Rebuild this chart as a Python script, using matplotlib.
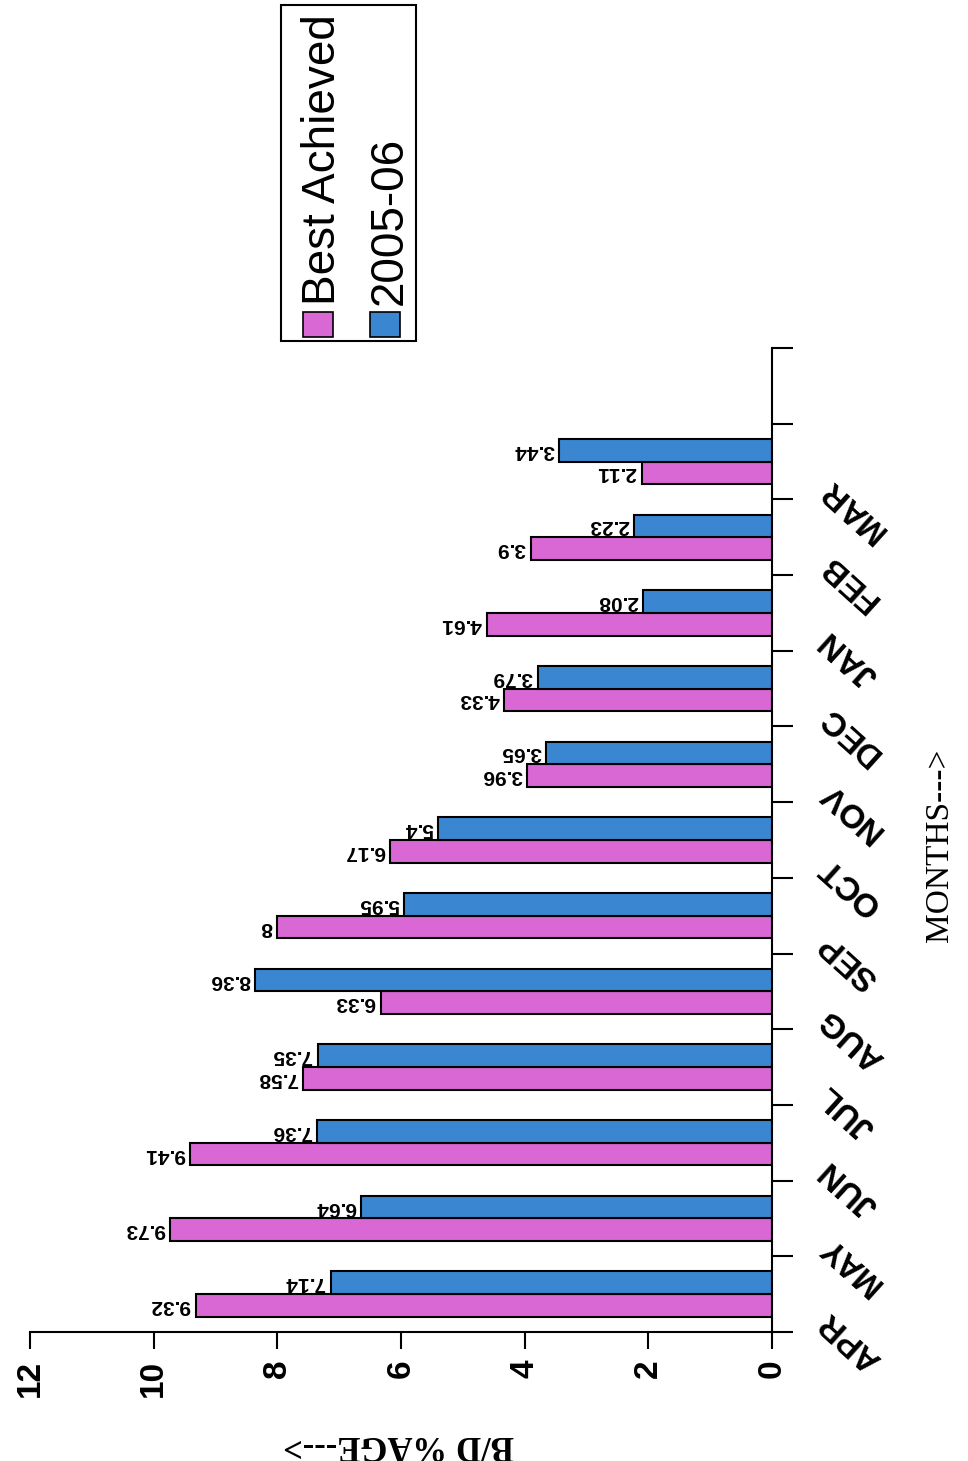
import numpy as np
import matplotlib.pyplot as plt
from matplotlib.patches import Rectangle

# data
months = ['APR', 'MAY', 'JUN', 'JUL', 'AUG', 'SEP', 'OCT', 'NOV', 'DEC', 'JAN', 'FEB', 'MAR']
best_achieved = [9.32, 9.73, 9.41, 7.58, 6.33, 8, 6.17, 3.96, 4.33, 4.61, 3.9, 2.11]
fy_2005_06 = [7.14, 6.64, 7.36, 7.35, 8.36, 5.95, 5.4, 3.65, 3.79, 2.08, 2.23, 3.44]
series_names = ['Best Achieved', '2005-06']
value_ticks = [0, 2, 4, 6, 8, 10, 12]

pink = '#DA68D4'
blue = '#3B86D1'
sans = 'Liberation Sans'
serif = 'Liberation Serif'

W, H = 968, 1461
fig = plt.figure(figsize=(W / 100, H / 100), dpi=100)
fig.patch.set_facecolor('white')

# axes placed in pixel terms
ax_l, ax_r, ax_t, ax_b = 30, 772, 348, 1332
ax = fig.add_axes([ax_l / W, (H - ax_b) / H, (ax_r - ax_l) / W, (ax_b - ax_t) / H])

y = np.arange(len(months))
bw = 0.3
ax.barh(y - bw / 2, best_achieved, height=bw, color=pink, edgecolor='black', linewidth=1.5)
ax.barh(y + bw / 2, fy_2005_06, height=bw, color=blue, edgecolor='black', linewidth=1.5)

# value labels, upside down like the scan
for vals, off in [(best_achieved, -bw / 2), (fy_2005_06, bw / 2)]:
    for i, v in enumerate(vals):
        ax.annotate(f'{v:g}', xy=(v, y[i] + off), xytext=(-5, 0), textcoords='offset pixels',
                    rotation=180, rotation_mode='anchor', ha='left', va='center',
                    fontsize=15, fontweight='bold', family=sans)

ax.set_xlim(12, 0)
ax.set_ylim(-0.5, len(months) + 0.5)

for s in ['top', 'left']:
    ax.spines[s].set_visible(False)
ax.spines['bottom'].set_linewidth(1.5)
ax.spines['right'].set_linewidth(1.5)

ax.set_xticks(value_ticks)
ax.set_xticklabels([str(v) for v in value_ticks], rotation=90, fontsize=24,
                   fontweight='bold', family=sans)
ax.tick_params(axis='x', direction='out', length=12, width=1.5, pad=8)

ax.yaxis.tick_right()
ax.set_yticks(np.arange(-0.5, len(months) + 1, 1.0))
ax.set_yticklabels([])
ax.tick_params(axis='y', direction='out', length=15, width=1.5)

# month labels
for i, m in enumerate(months):
    ax.annotate(m, xy=(0, y[i] - 0.3), xycoords='data', xytext=(52, 0),
                textcoords='offset pixels', rotation=138, rotation_mode='anchor',
                ha='right', va='center', fontsize=24, fontweight='bold', family=sans,
                annotation_clip=False)

# axis titles
fig.text(398 / W, 1 - 1445 / H, 'B/D %AGE--->', rotation=180, ha='center', va='center',
         fontsize=25, fontweight='bold', family=serif)
fig.text(940 / W, 1 - 845 / H, 'MONTHS--->', rotation=90, ha='center', va='center',
         fontsize=24, family=serif)

# legend drawn by hand (rotated)
fig.patches.append(Rectangle((281 / W, 1 - 341 / H), 135 / W, 336 / H, transform=fig.transFigure,
                             facecolor='white', edgecolor='black', linewidth=1.5))
for (x0, col, name) in [(303, pink, series_names[0]), (370, blue, series_names[1])]:
    fig.patches.append(Rectangle((x0 / W, 1 - 337 / H), 30 / W, 25 / H, transform=fig.transFigure,
                                 facecolor=col, edgecolor='black', linewidth=1.2))
    fig.text((x0 + 32) / W, 1 - 305 / H, name, rotation=90, rotation_mode='anchor',
             ha='left', va='baseline', fontsize=33, family=sans)

plt.savefig('out.png', dpi=100)
